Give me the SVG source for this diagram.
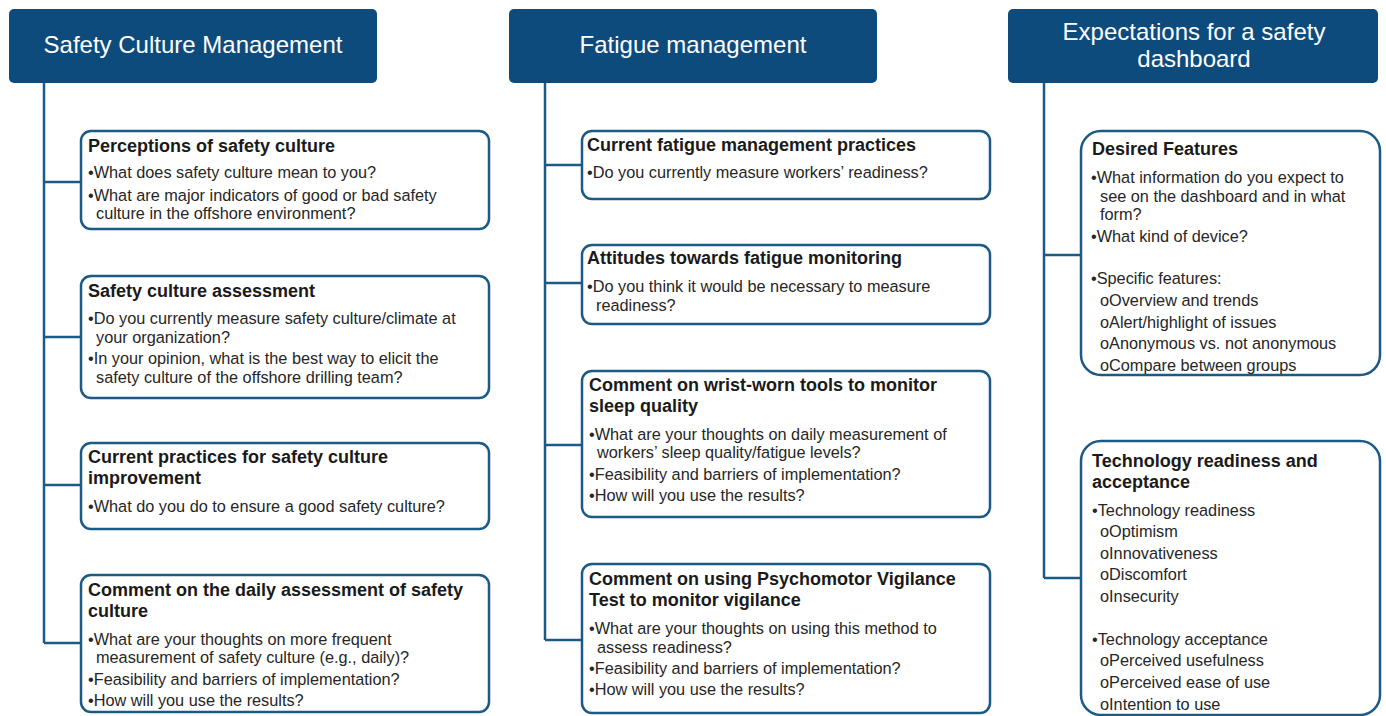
<svg xmlns="http://www.w3.org/2000/svg" width="1386" height="716" viewBox="0 0 1386 716">
  <style>
    .hdr { fill: #0e4b7d; }
    .hdr-t { fill: #ffffff; font-family: "Liberation Sans", Arial, sans-serif; font-size: 24px; text-anchor: middle; }
    .box { fill: #ffffff; stroke: #1c5a86; stroke-width: 2.5; }
    .link { fill: none; stroke: #1c5a86; stroke-width: 2.5; }
    .ttl { fill: #1a1a1a; font-family: "Liberation Sans", Arial, sans-serif; font-size: 18px; font-weight: bold; }
    .txt { fill: #262626; font-family: "Liberation Sans", Arial, sans-serif; font-size: 16.3px; }
  </style>
  <rect width="1386" height="716" fill="#ffffff"/>

  <!-- connectors: trunk lines and branch stubs -->
  <g id="connectors">
    <path class="link" d="M44 83 V643 M44 182 H81 M44 337 H81 M44 485 H81 M44 643 H81"/>
    <path class="link" d="M545 83 V640 M545 165 H582 M545 283 H582 M545 445 H582 M545 640 H582"/>
    <path class="link" d="M1044 83 V578 M1044 255 H1081 M1044 578 H1081"/>
  </g>

  <!-- column headers -->
  <g id="hdr-safety">
    <rect class="hdr" x="9" y="9" width="368" height="74" rx="5"/>
    <text class="hdr-t" x="193" y="53">Safety Culture Management</text>
  </g>
  <g id="hdr-fatigue">
    <rect class="hdr" x="509" y="9" width="368" height="74" rx="5"/>
    <text class="hdr-t" x="693" y="53">Fatigue management</text>
  </g>
  <g id="hdr-dashboard">
    <rect class="hdr" x="1008" y="9" width="370" height="74" rx="5"/>
    <text class="hdr-t" x="1194" y="40">Expectations for a safety</text>
    <text class="hdr-t" x="1194" y="67">dashboard</text>
  </g>

  <!-- safety culture column -->
  <g id="perceptions">
    <rect class="box" x="81" y="131" width="408" height="98" rx="10"/>
    <text class="ttl" x="88" y="152">Perceptions of safety culture</text>
    <text class="txt" x="88" y="178">•What does safety culture mean to you?</text>
    <text class="txt" x="88" y="201">•What are major indicators of good or bad safety</text>
    <text class="txt" x="96" y="219">culture in the offshore environment?</text>
  </g>
  <g id="assessment">
    <rect class="box" x="81" y="276" width="408" height="122" rx="10"/>
    <text class="ttl" x="88" y="297">Safety culture assessment</text>
    <text class="txt" x="88" y="324">•Do you currently measure safety culture/climate at</text>
    <text class="txt" x="96" y="343">your organization?</text>
    <text class="txt" x="88" y="364">•In your opinion, what is the best way to elicit the</text>
    <text class="txt" x="96" y="383">safety culture of the offshore drilling team?</text>
  </g>
  <g id="improvement">
    <rect class="box" x="81" y="443" width="408" height="86" rx="10"/>
    <text class="ttl" x="88" y="463">Current practices for safety culture</text>
    <text class="ttl" x="88" y="484">improvement</text>
    <text class="txt" x="88" y="512">•What do you do to ensure a good safety culture?</text>
  </g>
  <g id="daily-assessment">
    <rect class="box" x="81" y="575" width="408" height="137" rx="10"/>
    <text class="ttl" x="88" y="596">Comment on the daily assessment of safety</text>
    <text class="ttl" x="88" y="617">culture</text>
    <text class="txt" x="88" y="645">•What are your thoughts on more frequent</text>
    <text class="txt" x="96" y="663">measurement of safety culture (e.g., daily)?</text>
    <text class="txt" x="88" y="685">•Feasibility and barriers of implementation?</text>
    <text class="txt" x="88" y="706">•How will you use the results?</text>
  </g>

  <!-- fatigue column -->
  <g id="fatigue-practices">
    <rect class="box" x="582" y="131" width="408" height="68" rx="10"/>
    <text class="ttl" x="587" y="151">Current fatigue management practices</text>
    <text class="txt" x="587" y="178">•Do you currently measure workers’ readiness?</text>
  </g>
  <g id="fatigue-attitudes">
    <rect class="box" x="582" y="245" width="408" height="79" rx="10"/>
    <text class="ttl" x="587" y="264">Attitudes towards fatigue monitoring</text>
    <text class="txt" x="587" y="292">•Do you think it would be necessary to measure</text>
    <text class="txt" x="596" y="311">readiness?</text>
  </g>
  <g id="wrist-worn">
    <rect class="box" x="582" y="371" width="408" height="146" rx="10"/>
    <text class="ttl" x="589" y="391">Comment on wrist-worn tools to monitor</text>
    <text class="ttl" x="589" y="412">sleep quality</text>
    <text class="txt" x="589" y="440">•What are your thoughts on daily measurement of</text>
    <text class="txt" x="597" y="458">workers’ sleep quality/fatigue levels?</text>
    <text class="txt" x="589" y="480">•Feasibility and barriers of implementation?</text>
    <text class="txt" x="589" y="501">•How will you use the results?</text>
  </g>
  <g id="pvt">
    <rect class="box" x="582" y="564" width="408" height="149" rx="10"/>
    <text class="ttl" x="589" y="585">Comment on using Psychomotor Vigilance</text>
    <text class="ttl" x="589" y="606">Test to monitor vigilance</text>
    <text class="txt" x="589" y="634">•What are your thoughts on using this method to</text>
    <text class="txt" x="597" y="653">assess readiness?</text>
    <text class="txt" x="589" y="674">•Feasibility and barriers of implementation?</text>
    <text class="txt" x="589" y="695">•How will you use the results?</text>
  </g>

  <!-- dashboard column -->
  <g id="desired-features">
    <rect class="box" x="1081" y="131" width="299" height="244" rx="20"/>
    <text class="ttl" x="1092" y="155">Desired Features</text>
    <text class="txt" x="1091" y="183">•What information do you expect to</text>
    <text class="txt" x="1100" y="202">see on the dashboard and in what</text>
    <text class="txt" x="1100" y="220">form?</text>
    <text class="txt" x="1091" y="242">•What kind of device?</text>
    <text class="txt" x="1091" y="284">•Specific features:</text>
    <text class="txt" x="1100" y="306">oOverview and trends</text>
    <text class="txt" x="1100" y="328">oAlert/highlight of issues</text>
    <text class="txt" x="1100" y="349">oAnonymous vs. not anonymous</text>
    <text class="txt" x="1100" y="371">oCompare between groups</text>
  </g>
  <g id="tech-readiness">
    <rect class="box" x="1081" y="441" width="299" height="274" rx="20"/>
    <text class="ttl" x="1092" y="467">Technology readiness and</text>
    <text class="ttl" x="1092" y="488">acceptance</text>
    <text class="txt" x="1092" y="516">•Technology readiness</text>
    <text class="txt" x="1100" y="537">oOptimism</text>
    <text class="txt" x="1100" y="559">oInnovativeness</text>
    <text class="txt" x="1100" y="580">oDiscomfort</text>
    <text class="txt" x="1100" y="602">oInsecurity</text>
    <text class="txt" x="1092" y="645">•Technology acceptance</text>
    <text class="txt" x="1100" y="666">oPerceived usefulness</text>
    <text class="txt" x="1100" y="688">oPerceived ease of use</text>
    <text class="txt" x="1100" y="710">oIntention to use</text>
  </g>
</svg>
